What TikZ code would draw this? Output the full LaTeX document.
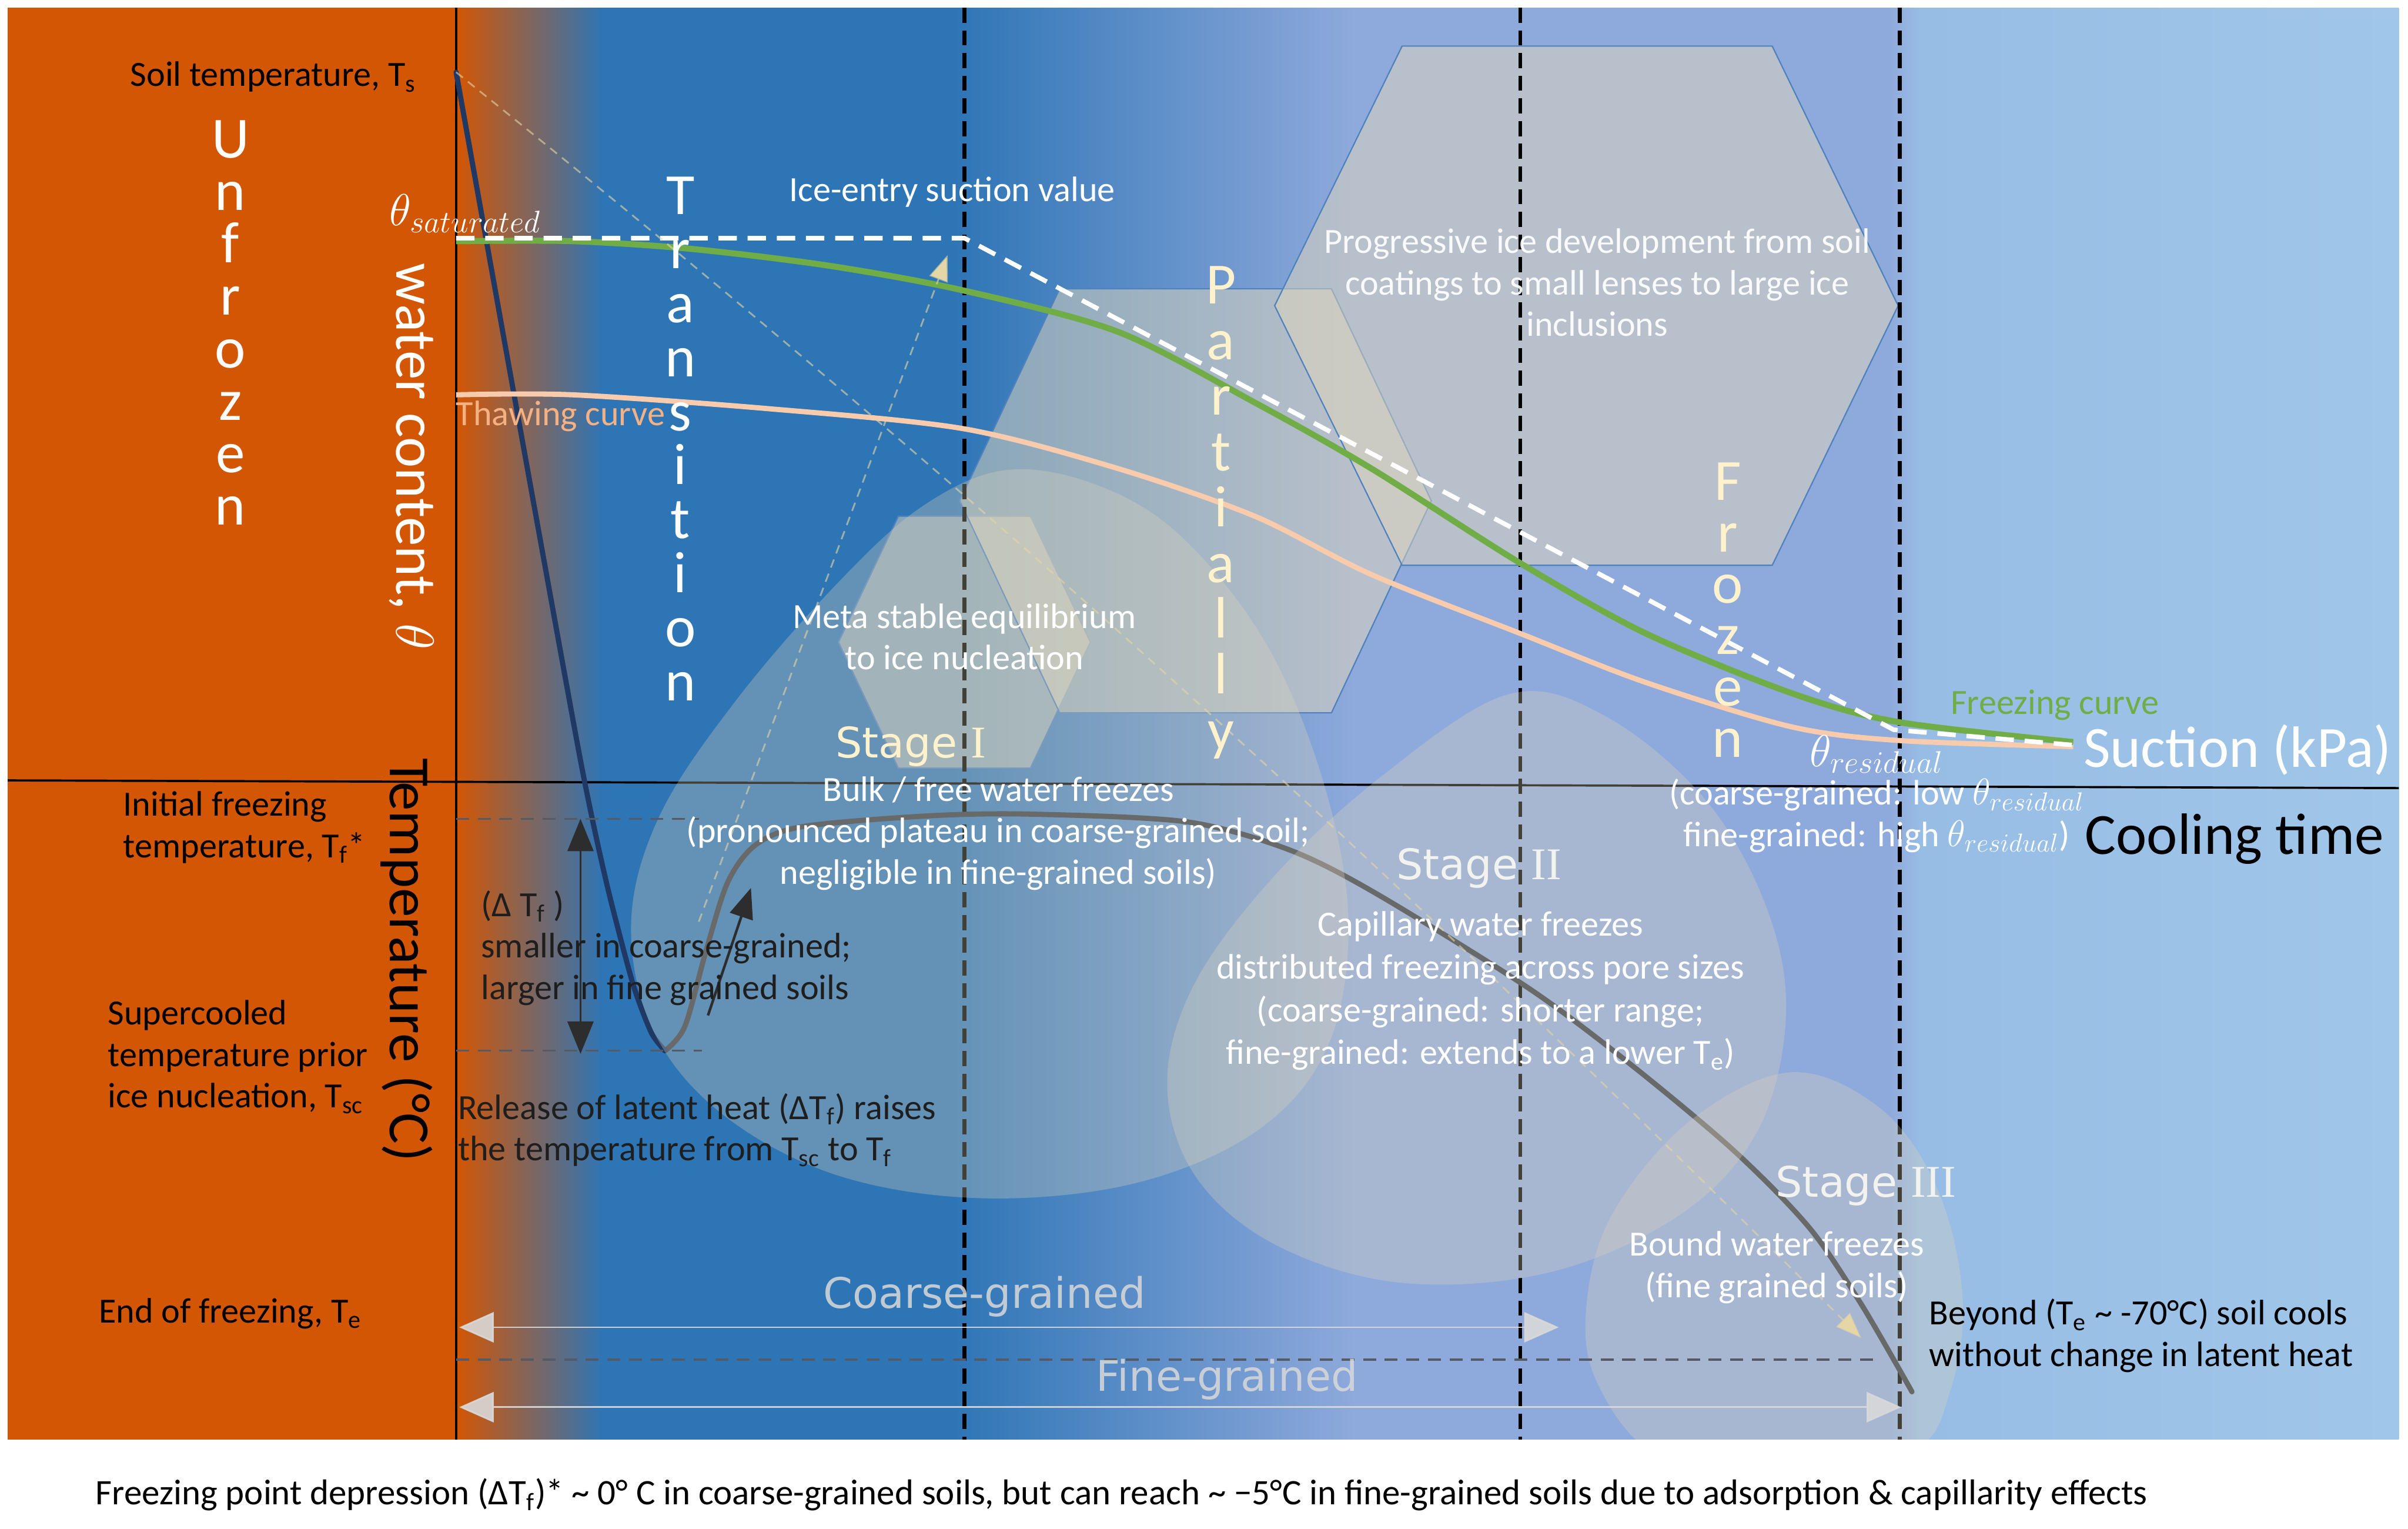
\documentclass[tikz,border=0pt]{standalone}
\usepackage{fontspec}
\setmainfont{Carlito}
\newfontfamily\djv{DejaVu Sans}
\newfontfamily\lserif{Liberation Serif}
\usetikzlibrary{arrows.meta}
\definecolor{orng}{RGB}{211,86,4}
\definecolor{dblue}{RGB}{46,117,182}
\definecolor{pblue}{RGB}{142,169,219}
\definecolor{lblue}{RGB}{152,189,229}
\definecolor{lblue2}{RGB}{160,198,233}
\definecolor{grn}{RGB}{112,173,71}
\definecolor{peach}{RGB}{248,203,173}
\definecolor{peachtxt}{RGB}{244,177,131}
\definecolor{navy}{RGB}{31,56,100}
\definecolor{tgray}{RGB}{52,58,70}
\definecolor{shapefill}{RGB}{225,215,188}
\definecolor{hexline}{RGB}{79,129,189}
\definecolor{paleyel}{RGB}{255,242,204}
\definecolor{faint}{RGB}{228,214,165}
\definecolor{lgray}{RGB}{217,217,217}
\definecolor{arrdark}{RGB}{45,45,45}
\definecolor{lvlgray}{RGB}{85,90,100}
\definecolor{stwhite}{RGB}{242,242,238}
\definecolor{txtdark}{RGB}{30,30,30}
\newcommand{\stnum}[1]{{\lserif\fontsize{21}{22}\selectfont #1}}
\begin{document}
\begin{tikzpicture}[x=0.025cm,y=-0.025cm,
  lbl/.style={font=\fontsize{16.4}{19.2}\selectfont, inner sep=0pt, align=center},
  bigtxt/.style={font=\fontsize{27}{30}\selectfont, inner sep=0pt},
  stack/.style={font=\fontsize{27}{24.5}\selectfont, inner sep=0pt, align=center, anchor=north},
  mathlbl/.style={font=\fontsize{20.74}{24}\selectfont, inner sep=0pt},
  stagetxt/.style={font=\djv\fontsize{19.5}{22}\selectfont, inner sep=0pt},
  graintxt/.style={font=\djv\fontsize{19.5}{22}\selectfont, inner sep=0pt, text=lgray, text opacity=0.85},
  hexa/.style={fill=shapefill, fill opacity=0.5, draw=hexline, line width=0.6pt},
  blob/.style={fill=shapefill, fill opacity=0.3},
  vdash/.style={draw=black, line width=1.8pt, dash pattern=on 7pt off 3.5pt},
  wdash/.style={draw=white, line width=2.1pt, dash pattern=on 8.5pt off 5pt},
  axisline/.style={draw=black, line width=1pt},
  lvl/.style={draw=lvlgray, line width=0.9pt, dash pattern=on 6pt off 4pt},
  darr/.style={draw=arrdark, line width=1pt, {Triangle[length=15pt,width=12pt]}-{Triangle[length=15pt,width=12pt]}},
  uparr/.style={draw=arrdark, line width=1.2pt, -{Triangle[length=14pt,width=11pt]}},
  grainarr/.style={draw=lgray, line width=0.8pt, draw opacity=0.9, fill opacity=0.9, {Triangle[length=16pt,width=14pt]}-{Triangle[length=16pt,width=14pt]}},
  faintline/.style={draw=faint, line width=0.8pt, dash pattern=on 4pt off 3pt, draw opacity=0.6, -{Triangle[length=12pt,width=9pt]}}
]
\useasboundingbox (0,0) rectangle (1568,995);
\fill[white] (0,0) rectangle (1568,995);

% background
\fill[orng] (5,5) rectangle (298,937);
\shade[left color=orng,right color=dblue] (297,5) rectangle (393,937);
\fill[dblue] (392,5) rectangle (621,937);
\shade[left color=dblue,right color=pblue] (620,5) rectangle (881,937);
\fill[pblue] (880,5) rectangle (1231,937);
\shade[left color=pblue,right color=lblue] (1230,5) rectangle (1251,937);
\shade[left color=lblue,right color=lblue2] (1250,5) rectangle (1562,937);

% hexagons
\path[hexa] (546,418) -- (585,336) -- (671,336) -- (710,418) -- (671,500) -- (585,500) -- cycle;
\path[hexa] (625,326) -- (690,188) -- (867,188) -- (932,326) -- (867,464) -- (690,464) -- cycle;
\path[hexa] (830,199) -- (913,30) -- (1154,30) -- (1236,199) -- (1154,368) -- (913,368) -- cycle;

% dashed verticals and axes
\coordinate (vat) at (628,5); \coordinate (vab) at (628,937);
\coordinate (vbt) at (990,5); \coordinate (vbb) at (990,937);
\coordinate (vct) at (1237,5); \coordinate (vcb) at (1237,937);
\draw[vdash] (vat) -- (vab);
\draw[vdash] (vbt) -- (vbb);
\draw[vdash] (vct) -- (vcb);
\coordinate (axtop) at (297,5); \coordinate (axbot) at (297,937);
\coordinate (hl) at (5,508); \coordinate (hr) at (1562,513);
\draw[axisline] (axtop) -- (axbot);
\draw[axisline] (hl) -- (hr);

% temperature curve
\coordinate (tsPt) at (297,47);
\coordinate (tmin) at (433,684);
\coordinate (tend) at (1245,906);
\draw[draw=tgray, line width=2.4pt, line cap=round] plot[smooth, tension=0.5] coordinates {(tmin) (446,668) (460,618) (474,574) (492,550) (523,538) (606,531) (673,530) (773,535) (839,553) (895,581) (995,643) (1062,693) (1129,749) (1178,799) (1212,849) (tend)};
\draw[draw=navy, line width=2.4pt, line cap=round] plot[smooth, tension=0.4] coordinates {(tsPt) (338,275) (378,495) (395,575) (412,640) (424,672) (tmin)};

% blobs
\begin{scope}
\clip (5,5) rectangle (1562,937);
\path[blob] plot[smooth cycle, tension=0.6] coordinates {(411,600) (430,530) (480,455) (545,380) (600,330) (655,306) (715,316) (770,350) (825,420) (862,510) (878,600) (865,680) (820,735) (740,770) (640,780) (545,765) (470,725) (425,670)};
\path[blob] plot[smooth cycle, tension=0.6] coordinates {(982,452) (1045,466) (1110,520) (1150,590) (1163,660) (1145,735) (1095,790) (1010,828) (912,835) (830,810) (778,765) (760,705) (778,640) (830,570) (900,505)};
\path[blob] plot[smooth cycle, tension=0.6] coordinates {(1166,698) (1225,722) (1262,775) (1278,845) (1270,905) (1245,945) (1160,962) (1080,948) (1040,900) (1033,850) (1050,790) (1100,730)};
\end{scope}

% water content curves
\draw[draw=peach, line width=2.4pt] plot[smooth, tension=0.5] coordinates {(297,257) (373,257) (500,266) (627,279) (728,305) (817,336) (893,374) (989,412) (1071,444) (1166,473) (1236,482) (1350,486)};
\draw[draw=grn, line width=2.8pt] plot[smooth, tension=0.5] coordinates {(297,157) (373,157) (450,162) (540,173) (627,189) (728,216) (817,262) (893,305) (989,366) (1071,412) (1166,451) (1236,470) (1350,483)};
\coordinate (wd0) at (297,155); \coordinate (wd1) at (628,155);
\coordinate (wd2) at (1233,475); \coordinate (wd3) at (1350,485);
\draw[wdash] (wd0) -- (wd1) -- (wd2) -- (wd3);

% level lines
\coordinate (tfl) at (297,533); \coordinate (tfr) at (455,533);
\coordinate (tscl) at (297,684); \coordinate (tscr) at (457,684);
\coordinate (tel) at (297,885); \coordinate (ter) at (1222,885);
\draw[lvl] (tfl) -- (tfr);
\draw[lvl] (tscl) -- (tscr);
\draw[lvl] (tel) -- (ter);

% arrows
\coordinate (dttop) at (378,533); \coordinate (dtbot) at (378,686);
\draw[darr] (dttop) -- (dtbot);
\coordinate (uptail) at (461,661); \coordinate (uptip) at (489,578);
\draw[uparr] (uptail) -- (uptip);
\coordinate (cl) at (299,864); \coordinate (cr) at (1015,864);
\draw[grainarr] (cl) -- (cr);
\coordinate (fl) at (299,916); \coordinate (fr) at (1238,916);
\draw[grainarr] (fl) -- (fr);
\coordinate (ietail) at (455,600); \coordinate (ietip) at (617,166);
\draw[faintline] (ietail) -- (ietip);
\coordinate (s3tip) at (1212,871);
\draw[faintline] (tsPt) .. controls (650,330) and (900,560) .. (s3tip);

% texts
\node[lbl, text=black] (soilT) at (178,50) {Soil temperature, T\textsubscript{s}};
\node[stack, text=white, font=\fontsize{27}{24.3}\selectfont] (unfrozen) at (150,78) {U\\n\\f\\r\\o\\z\\e\\n};
\node[bigtxt, text=white, rotate=-90] (wc) at (268,297) {water content, $\theta$};
\node[mathlbl, text=white] (thsat) at (303,139) {$\theta_{saturated}$};
\node[stack, text=white, font=\fontsize{27}{25}\selectfont] (trans) at (443,115) {T\\r\\a\\n\\s\\i\\t\\i\\o\\n};
\node[lbl, text=white] (ice) at (620,125) {Ice-entry suction value};
\node[lbl, text=white, text opacity=0.92] (prog) at (1040,184) {Progressive ice development from soil\\coatings to small lenses to large ice\\inclusions};
\node[stack, text=paleyel, font=\fontsize{27}{25.8}\selectfont] (part) at (795,173) {P\\a\\r\\t\\i\\a\\l\\l\\y};
\node[lbl, text=peachtxt] (thawlbl) at (365,271) {Thawing curve};
\node[lbl, text=white] (meta) at (628,414.5) {Meta stable equilibrium\\to ice nucleation};
\node[stack, text=paleyel, font=\fontsize{27}{23.8}\selectfont] (froz) at (1125,301) {F\\r\\o\\z\\e\\n};
\node[lbl, text=grn] (freezlbl) at (1338,459) {Freezing curve};
\node[mathlbl, text=white] (thres) at (1222,491) {$\theta_{residual}$};
\node[bigtxt, text=white] (suction) at (1457,488) {Suction (kPa)};
\node[stagetxt, text=paleyel] (st1) at (593,486) {Stage \stnum{I}};
\node[lbl, text=white] (bulk) at (650,542.5) {Bulk / free water freezes\\(pronounced plateau in coarse-grained soil;\\negligible in fine-grained soils)};
\node[lbl, text=black, align=left, anchor=west] (initf) at (80,538.5) {Initial freezing\\temperature, T\textsubscript{f}*};
\node[lbl, text=txtdark, align=left, anchor=west] (dtf) at (313,617) {(Δ T\textsubscript{f} )\\smaller in coarse-grained;\\larger in fine grained soils};
\node[bigtxt, text=black, rotate=-90] (templbl) at (265,625) {Temperature (°C)};
\node[lbl, text=black, align=left, anchor=west] (superc) at (70,688) {Supercooled\\temperature prior\\ice nucleation, T\textsubscript{sc}};
\node[lbl, text=txtdark, align=left, anchor=west] (release) at (298,735.5) {Release of latent heat (ΔT\textsubscript{f}) raises\\the temperature from T\textsubscript{sc} to T\textsubscript{f}};
\node[stagetxt, text=stwhite] (st2) at (963,565) {Stage \stnum{II}};
\node[lbl, text=white, font=\fontsize{16.4}{19.8}\selectfont] (capil) at (964,645) {Capillary water freezes\\distributed freezing across pore sizes\\(coarse-grained: shorter range;\\fine-grained: extends to a lower T\textsubscript{e})};
\node[lbl, text=white] (resnote) at (1222,531) {(coarse-grained: low $\theta_{residual}$\\fine-grained: high $\theta_{residual}$)};
\node[bigtxt, text=black] (cooling) at (1455,546) {Cooling time};
\node[stagetxt, text=stwhite] (st3) at (1215,772) {Stage \stnum{III}};
\node[lbl, text=white] (bound) at (1157,825) {Bound water freezes\\(fine grained soils)};
\node[lbl, text=black, align=left, anchor=west] (beyond) at (1256,869.5) {Beyond (T\textsubscript{e} \textasciitilde{} -70°C) soil cools\\without change in latent heat};
\node[lbl, text=black] (endf) at (150,855) {End of freezing, T\textsubscript{e}};
\node[graintxt] (coarse) at (641,844) {Coarse-grained};
\node[graintxt] (fine) at (799,898) {Fine-grained};
\node[lbl, text=black, anchor=west, font=\fontsize{16.6}{19.2}\selectfont] (caption) at (62,973) {Freezing point depression (ΔT\textsubscript{f})* \textasciitilde{} 0° C in coarse-grained soils, but can reach \textasciitilde{} −5°C in fine-grained soils due to adsorption \& capillarity effects};
\end{tikzpicture}
\end{document}
